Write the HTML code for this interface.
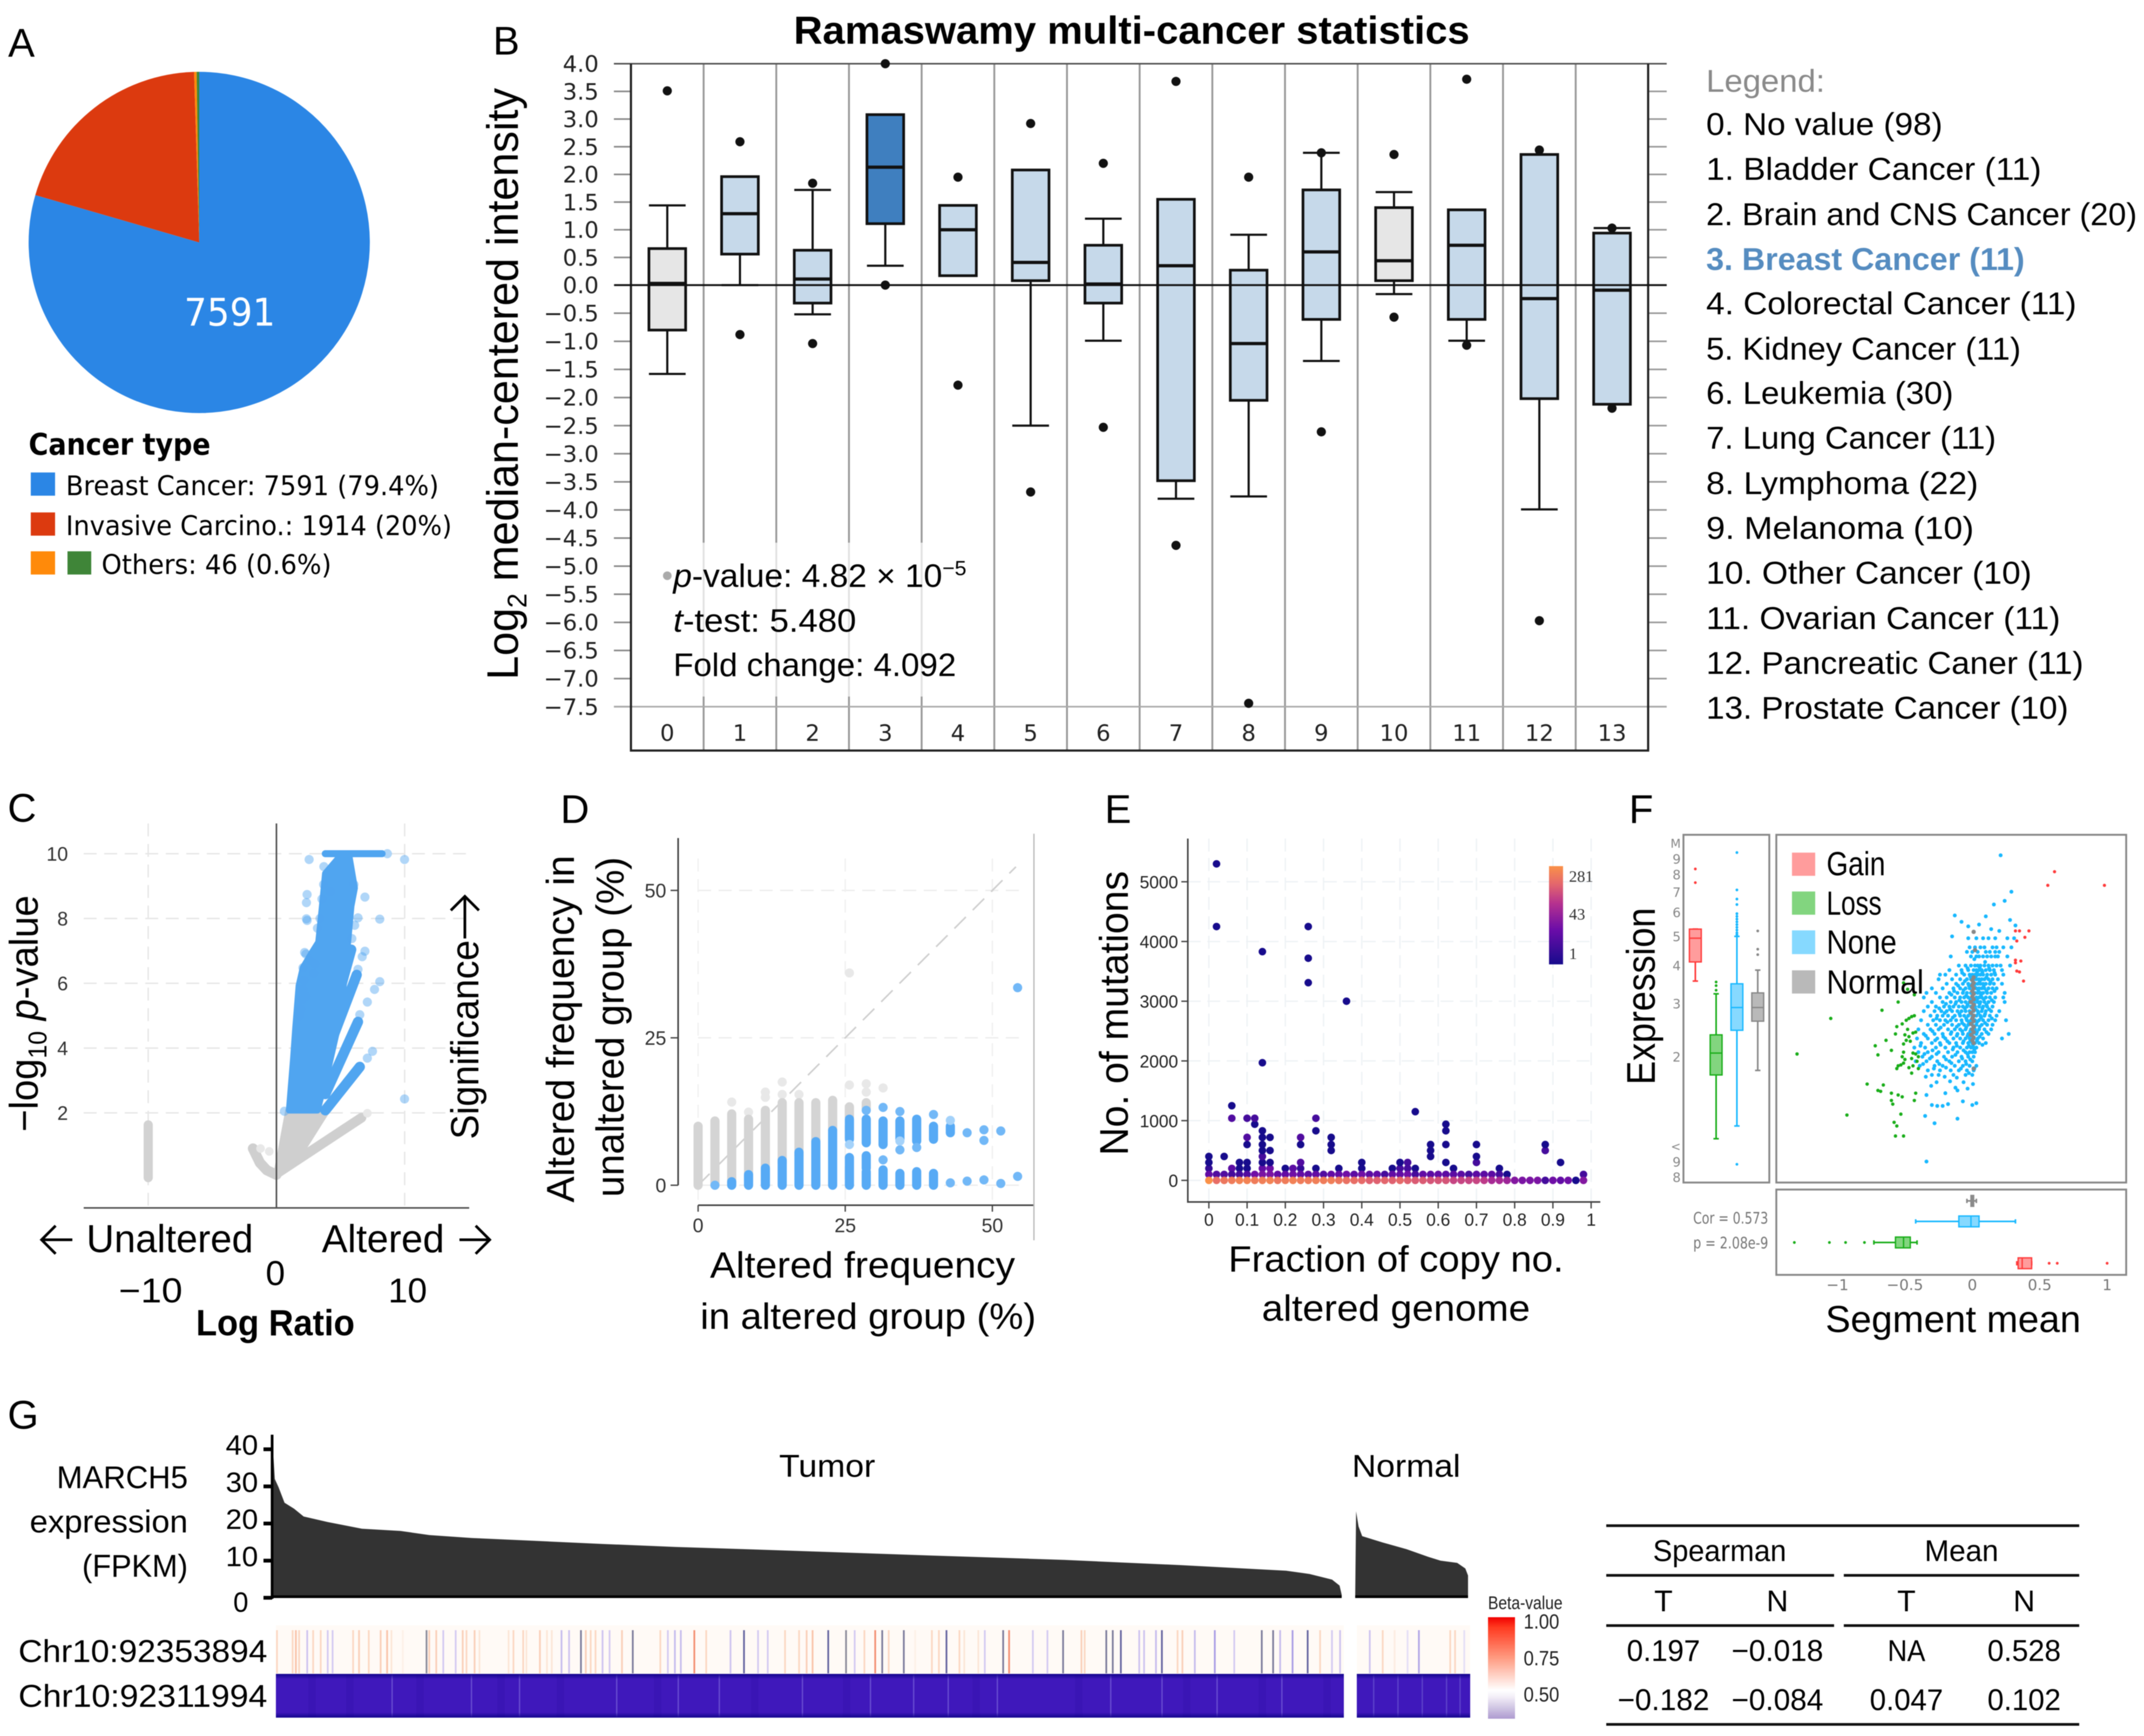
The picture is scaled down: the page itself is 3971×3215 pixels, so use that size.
<!DOCTYPE html>
<html lang="en">
<head>
<meta charset="utf-8">
<title>MARCH5 multi-panel cancer statistics figure</title>
<style>
html,body{margin:0;padding:0;background:#fff;}
svg{display:block;filter:blur(0.9px);}
text{font-family:"Liberation Sans",sans-serif;fill:#000;}
.dj{font-family:"DejaVu Sans",sans-serif;}
.serif{font-family:"Liberation Serif",serif;}
.panel{font-size:74px;}
.t58{font-size:58px;}
.t68{font-size:68px;}
</style>
</head>
<body>
<svg id="fig" xmlns="http://www.w3.org/2000/svg" width="3971" height="3215" viewBox="0 0 3971 3215">
<rect x="0" y="0" width="3971" height="3215" fill="#fff"/>

<!-- PANEL A -->
<g id="panelA">
  <text class="panel" x="15" y="105">A</text>
  <g id="pieSlices"></g>
  <text id="pieLabel" class="dj" x="341" y="603" font-size="70" textLength="169" lengthAdjust="spacingAndGlyphs" style="fill:#fff">7591</text>
  <text class="dj" x="53" y="842" font-size="55" font-weight="700" textLength="337" lengthAdjust="spacingAndGlyphs">Cancer type</text>
  <rect x="57" y="875" width="45" height="43" fill="#2b86e5"/>
  <text class="dj" x="122" y="917" font-size="50" textLength="691" lengthAdjust="spacingAndGlyphs">Breast Cancer: 7591 (79.4%)</text>
  <rect x="57" y="949" width="45" height="43" fill="#dc3a0f"/>
  <text class="dj" x="122" y="991" font-size="50" textLength="715" lengthAdjust="spacingAndGlyphs">Invasive Carcino.: 1914 (20%)</text>
  <rect x="57" y="1021" width="45" height="43" fill="#ff8a0a"/>
  <rect x="125" y="1021" width="44" height="43" fill="#3f8538"/>
  <text class="dj" x="188" y="1063" font-size="50" textLength="426" lengthAdjust="spacingAndGlyphs">Others: 46 (0.6%)</text>
</g>

<!-- PANEL B -->
<g id="panelB">
  <text class="panel" x="913" y="101">B</text>
  <text x="1470" y="81" font-size="72" font-weight="700" textLength="1252" lengthAdjust="spacingAndGlyphs">Ramaswamy multi-cancer statistics</text>
  <text transform="translate(959,1259) rotate(-90)" font-size="82" textLength="1096" lengthAdjust="spacingAndGlyphs">Log<tspan font-size="50" dy="16">2</tspan><tspan dy="-16"> median-centered intensity</tspan></text>
  <g id="bPlot"></g>
  <text x="1247" y="1087" font-size="60" textLength="543" lengthAdjust="spacingAndGlyphs"><tspan font-style="italic">p</tspan>-value: 4.82 × 10<tspan font-size="38" dy="-22">−5</tspan></text>
  <text x="1247" y="1170" font-size="60" textLength="339" lengthAdjust="spacingAndGlyphs"><tspan font-style="italic">t</tspan>-test: 5.480</text>
  <text x="1247" y="1252" font-size="60" textLength="524" lengthAdjust="spacingAndGlyphs">Fold change: 4.092</text>
  <g>
    <text class="t58" x="3160" y="170" textLength="220" lengthAdjust="spacingAndGlyphs" style="fill:#8a8a8a">Legend:</text>
    <text class="t58" x="3160" y="250" textLength="438" lengthAdjust="spacingAndGlyphs">0. No value (98)</text>
    <text class="t58" x="3160" y="333" textLength="621" lengthAdjust="spacingAndGlyphs">1. Bladder Cancer (11)</text>
    <text class="t58" x="3160" y="417" textLength="798" lengthAdjust="spacingAndGlyphs">2. Brain and CNS Cancer (20)</text>
    <text class="t58" x="3160" y="500" textLength="590" lengthAdjust="spacingAndGlyphs" font-weight="700" style="fill:#558cc0">3. Breast Cancer (11)</text>
    <text class="t58" x="3160" y="582" textLength="686" lengthAdjust="spacingAndGlyphs">4. Colorectal Cancer (11)</text>
    <text class="t58" x="3160" y="666" textLength="583" lengthAdjust="spacingAndGlyphs">5. Kidney Cancer (11)</text>
    <text class="t58" x="3160" y="748" textLength="458" lengthAdjust="spacingAndGlyphs">6. Leukemia (30)</text>
    <text class="t58" x="3160" y="831" textLength="537" lengthAdjust="spacingAndGlyphs">7. Lung Cancer (11)</text>
    <text class="t58" x="3160" y="915" textLength="504" lengthAdjust="spacingAndGlyphs">8. Lymphoma (22)</text>
    <text class="t58" x="3160" y="998" textLength="496" lengthAdjust="spacingAndGlyphs">9. Melanoma (10)</text>
    <text class="t58" x="3160" y="1081" textLength="603" lengthAdjust="spacingAndGlyphs">10. Other Cancer (10)</text>
    <text class="t58" x="3160" y="1165" textLength="656" lengthAdjust="spacingAndGlyphs">11. Ovarian Cancer (11)</text>
    <text class="t58" x="3160" y="1248" textLength="699" lengthAdjust="spacingAndGlyphs">12. Pancreatic Caner (11)</text>
    <text class="t58" x="3160" y="1331" textLength="671" lengthAdjust="spacingAndGlyphs">13. Prostate Cancer (10)</text>
  </g>
</g>

<!-- PANEL C -->
<g id="panelC">
  <text class="panel" x="14" y="1522">C</text>
  <g id="cPlot"></g>
  <text transform="translate(70,2096) rotate(-90)" font-size="74" textLength="438" lengthAdjust="spacingAndGlyphs">−log<tspan font-size="48" dy="16">10</tspan><tspan dy="-16"> </tspan><tspan font-style="italic">p</tspan>-value</text>
  <text transform="translate(886,2110) rotate(-90)" font-size="72" textLength="369" lengthAdjust="spacingAndGlyphs">Significance</text>
  <path d="M861 1738V1660M835 1686L861 1660L887 1686" fill="none" stroke="#000" stroke-width="5"/>
  <text x="160" y="2319" font-size="72" textLength="309" lengthAdjust="spacingAndGlyphs">Unaltered</text>
  <path d="M134 2296H77M103 2270L77 2296L103 2322" fill="none" stroke="#000" stroke-width="5"/>
  <text x="596" y="2319" font-size="72" textLength="227" lengthAdjust="spacingAndGlyphs">Altered</text>
  <path d="M851 2296H907M881 2270L907 2296L881 2322" fill="none" stroke="#000" stroke-width="5"/>
  <text x="492" y="2380" font-size="64" textLength="36" lengthAdjust="spacingAndGlyphs">0</text>
  <text x="220" y="2412" font-size="64" textLength="118" lengthAdjust="spacingAndGlyphs">−10</text>
  <text x="719" y="2412" font-size="64" textLength="72" lengthAdjust="spacingAndGlyphs">10</text>
  <text x="363" y="2473" font-size="68" font-weight="700" textLength="294" lengthAdjust="spacingAndGlyphs">Log Ratio</text>
</g>

<!-- PANEL D -->
<g id="panelD">
  <text class="panel" x="1038" y="1524">D</text>
  <g id="dPlot"></g>
  <text transform="translate(1063,2227) rotate(-90)" font-size="72" textLength="643" lengthAdjust="spacingAndGlyphs">Altered frequency in</text>
  <text transform="translate(1155,2217) rotate(-90)" font-size="72" textLength="630" lengthAdjust="spacingAndGlyphs">unaltered group (%)</text>
  <text x="1315" y="2366" class="t68" textLength="565" lengthAdjust="spacingAndGlyphs">Altered frequency</text>
  <text x="1297" y="2461" class="t68" textLength="622" lengthAdjust="spacingAndGlyphs">in altered group (%)</text>
</g>

<!-- PANEL E -->
<g id="panelE">
  <text class="panel" x="2046" y="1524">E</text>
  <g id="ePlot"></g>
  <text transform="translate(2089,2140) rotate(-90)" font-size="74" textLength="527" lengthAdjust="spacingAndGlyphs">No. of mutations</text>
  <text x="2275" y="2355" class="t68" textLength="621" lengthAdjust="spacingAndGlyphs">Fraction of copy no.</text>
  <text x="2337" y="2446" class="t68" textLength="497" lengthAdjust="spacingAndGlyphs">altered genome</text>
  <defs><linearGradient id="eBar" x1="0" y1="1" x2="0" y2="0"><stop offset="0" stop-color="#170b8c"/><stop offset=".35" stop-color="#6a0ca8"/><stop offset=".62" stop-color="#b5318f"/><stop offset=".82" stop-color="#e4676c"/><stop offset="1" stop-color="#fa9148"/></linearGradient></defs>
  <rect x="2869" y="1604" width="26" height="182" fill="url(#eBar)"/>
  <text class="serif" x="2906" y="1633" font-size="30" style="fill:#333">281</text>
  <text class="serif" x="2906" y="1703" font-size="30" style="fill:#333">43</text>
  <text class="serif" x="2906" y="1776" font-size="30" style="fill:#333">1</text>
</g>

<!-- PANEL F -->
<g id="panelF">
  <text class="panel" x="3017" y="1524">F</text>
  <rect x="3118" y="1546" width="159" height="644" fill="none" stroke="#888" stroke-width="3.5"/>
  <rect x="3290" y="1546" width="648" height="644" fill="none" stroke="#888" stroke-width="3.5"/>
  <rect x="3290" y="2203" width="648" height="158" fill="none" stroke="#888" stroke-width="3.5"/>
  <g id="fPlot"></g>
  <rect x="3319" y="1579" width="43" height="43" fill="#ff9c9c"/>
  <text x="3383" y="1621" font-size="62" textLength="109" lengthAdjust="spacingAndGlyphs">Gain</text>
  <rect x="3319" y="1651" width="43" height="43" fill="#82d57f"/>
  <text x="3383" y="1694" font-size="62" textLength="102" lengthAdjust="spacingAndGlyphs">Loss</text>
  <rect x="3319" y="1723" width="43" height="44" fill="#86d9ff"/>
  <text x="3383" y="1766" font-size="62" textLength="130" lengthAdjust="spacingAndGlyphs">None</text>
  <rect x="3319" y="1797" width="43" height="43" fill="#b9b9b9"/>
  <text x="3383" y="1840" font-size="62" textLength="180" lengthAdjust="spacingAndGlyphs">Normal</text>
  <text class="dj" x="3136" y="2266" font-size="29" textLength="139" lengthAdjust="spacingAndGlyphs" style="fill:#777">Cor = 0.573</text>
  <text class="dj" x="3136" y="2312" font-size="29" textLength="139" lengthAdjust="spacingAndGlyphs" style="fill:#777">p = 2.08e-9</text>
  <text transform="translate(3065,2009) rotate(-90)" font-size="74" textLength="328" lengthAdjust="spacingAndGlyphs">Expression</text>
  <text x="3381" y="2467" font-size="70" textLength="473" lengthAdjust="spacingAndGlyphs">Segment mean</text>
</g>

<!-- PANEL G -->
<g id="panelG">
  <text class="panel" x="14" y="2646">G</text>
  <text x="105" y="2756" font-size="58" textLength="243" lengthAdjust="spacingAndGlyphs">MARCH5</text>
  <text x="55" y="2838" font-size="58" textLength="293" lengthAdjust="spacingAndGlyphs">expression</text>
  <text x="152" y="2920" font-size="58" textLength="196" lengthAdjust="spacingAndGlyphs">(FPKM)</text>
  <text x="1443" y="2735" font-size="58" textLength="178" lengthAdjust="spacingAndGlyphs">Tumor</text>
  <text x="2504" y="2735" font-size="58" textLength="201" lengthAdjust="spacingAndGlyphs">Normal</text>
  <text x="34" y="3078" font-size="58" textLength="461" lengthAdjust="spacingAndGlyphs">Chr10:92353894</text>
  <text x="34" y="3161" font-size="58" textLength="461" lengthAdjust="spacingAndGlyphs">Chr10:92311994</text>
  <g id="gPlot"></g>
  <defs>
    <linearGradient id="betaBar" x1="0" y1="0" x2="0" y2="1"><stop offset="0" stop-color="#f00000"/><stop offset=".1" stop-color="#ff3a20"/><stop offset=".4" stop-color="#ff9a80"/><stop offset=".72" stop-color="#fff"/><stop offset=".78" stop-color="#f4f0f8"/><stop offset="1" stop-color="#ad9bcf"/></linearGradient>
    <linearGradient id="edgeShade" x1="0" y1="0" x2="0" y2="1"><stop offset="0" stop-color="#12048c"/><stop offset=".12" stop-color="#12048c" stop-opacity="0"/><stop offset=".88" stop-color="#12048c" stop-opacity="0"/><stop offset="1" stop-color="#12048c"/></linearGradient>
  </defs>
  <text x="2756" y="2980" font-size="34" textLength="138" lengthAdjust="spacingAndGlyphs" style="fill:#222">Beta-value</text>
  <rect x="2756" y="2995" width="50" height="188" fill="url(#betaBar)"/>
  <text x="2822" y="3016" font-size="38" textLength="66" lengthAdjust="spacingAndGlyphs" style="fill:#222">1.00</text>
  <text x="2822" y="3084" font-size="38" textLength="66" lengthAdjust="spacingAndGlyphs" style="fill:#222">0.75</text>
  <text x="2822" y="3151" font-size="38" textLength="66" lengthAdjust="spacingAndGlyphs" style="fill:#222">0.50</text>
  <g text-anchor="middle" font-size="56">
    <rect x="2975" y="2823" width="876" height="5" fill="#111"/>
    <rect x="2975" y="2915" width="422" height="5" fill="#111"/>
    <rect x="3415" y="2915" width="436" height="5" fill="#111"/>
    <rect x="2975" y="3008" width="422" height="5" fill="#111"/>
    <rect x="3415" y="3008" width="436" height="5" fill="#111"/>
    <rect x="2975" y="3191" width="876" height="5" fill="#111"/>
    <text x="3185" y="2891" textLength="247" lengthAdjust="spacingAndGlyphs">Spearman</text>
    <text x="3633" y="2891" textLength="137" lengthAdjust="spacingAndGlyphs">Mean</text>
    <text x="3081" y="2984">T</text>
    <text x="3292" y="2984">N</text>
    <text x="3531" y="2984">T</text>
    <text x="3749" y="2984">N</text>
    <text x="3081" y="3076" textLength="136" lengthAdjust="spacingAndGlyphs">0.197</text>
    <text x="3292" y="3076" textLength="170" lengthAdjust="spacingAndGlyphs">−0.018</text>
    <text x="3531" y="3076" textLength="70" lengthAdjust="spacingAndGlyphs">NA</text>
    <text x="3749" y="3076" textLength="136" lengthAdjust="spacingAndGlyphs">0.528</text>
    <text x="3081" y="3167" textLength="170" lengthAdjust="spacingAndGlyphs">−0.182</text>
    <text x="3292" y="3167" textLength="170" lengthAdjust="spacingAndGlyphs">−0.084</text>
    <text x="3531" y="3167" textLength="136" lengthAdjust="spacingAndGlyphs">0.047</text>
    <text x="3749" y="3167" textLength="136" lengthAdjust="spacingAndGlyphs">0.102</text>
  </g>
</g>
</svg>

<script>
/* ---------- Panel A data ---------- */
const pieValues = [7591, 1914, 23, 23];
const pieNames = ['breast-cancer', 'invasive-carcinoma', 'others-orange', 'others-green'];

/* ---------- Panel B data ---------- */
const bCategories = [0,1,2,3,4,5,6,7,8,9,10,11,12,13];
const bQ1 =        [-0.80,0.56,-0.32,1.11,0.17,0.08,-0.32,-3.48,-2.05,-0.61,0.08,-0.61,-2.02,-2.12];
const bMedian =    [0.03,1.29,0.11,2.13,1.00,0.41,0.02,0.35,-1.04,0.60,0.44,0.72,-0.24,-0.09];
const bQ3 =        [0.66,1.96,0.63,3.08,1.44,2.08,0.72,1.55,0.27,1.72,1.40,1.36,2.36,0.94];
const bWhiskerLow =[-1.58,0.00,-0.52,0.35,0.17,-2.50,-0.99,-3.80,-3.76,-1.35,-0.16,-0.99,-3.99,-2.12];
const bWhiskerHigh=[1.44,1.96,1.72,3.08,1.44,2.08,1.20,1.55,0.91,2.39,1.68,1.36,2.36,1.03];
const bOutlierHigh=[3.51,2.59,1.84,4.00,1.95,2.92,2.20,3.68,1.95,2.39,2.36,3.72,2.44,1.03];
const bOutlierLow =[null,-0.88,-1.04,0.00,-1.78,-3.68,-2.53,-4.63,-7.44,-2.61,-0.57,-1.07,-5.97,-2.19];
const bFaintOutlier = [-5.17];
const bHighlighted = [3];
const bNoValueGroups = [0,10];
const bTickValues = [4,3.5,3,2.5,2,1.5,1,0.5,0,-0.5,-1,-1.5,-2,-2.5,-3,-3.5,-4,-4.5,-5,-5.5,-6,-6.5,-7,-7.5];

/* ---------- Panel C data ---------- */
const cXTicks = [-10,0,10];
const cYTicks = [10,8,6,4,2];
const cFanLogRatio = [0.99,1.32,1.48,1.75,2.07,2.74,3.28,3.54,3.81,4.89,5.69,6.1,5.83,5.6,5.0,4.1,3.2];
const cFanP =        [2.08,3.69,4.59,5.93,6.48,6.93,7.27,8.27,9.39,9.89,9.89,8.94,8.38,7.38,5.03,3.47,2.08];
const cStreakLogRatioStart = [3.81,3.81,4.22,4.35,3.81];
const cStreakPStart =        [2.08,2.58,4.14,4.92,10];
const cStreakLogRatioEnd =   [6.5,6.36,6.26,5.83,8.24];
const cStreakPEnd =          [3.42,4.81,6.26,7.04,10];
const cLightLogRatio = [2.55,9.99,8.65,2.39,2.34,2.34,2.39,6.9,6.36,8.06,6.1,6.9,6.69,6.36,8.06,7.65,7.09,6.5,7.49,7.09,9.99,0.62,2.2,2.07,2.15,2.07,6.04,3.68,4.22,5.88,2.3,2.6,3.0,2.9,2.0,1.9,2.3,1.8,3.2,3.4,3.55,3.7];
const cLightP =        [9.82,9.82,10,8.74,8.49,7.99,7.94,8.66,8.02,7.98,7.79,6.99,6.82,6.43,6.05,5.81,5.42,5.03,3.9,3.69,2.43,2.05,6.95,6.48,6.09,5.81,9.05,9.05,8.83,7.38,6.9,6.7,6.6,6.3,5.5,5.2,5.6,5.0,7.7,8.0,8.6,9.6];
const cGrayFanLogRatio = [0.94,3.95,2.07,0];
const cGrayFanP =        [2.08,2.08,0.9,0.07];
const cGrayStreakLogRatio = [0,6.63];
const cGrayStreakP =        [0.12,1.85];
const cGrayCurveLogRatio = [-1.83,-1.29,-0.75,0];
const cGrayCurveP =        [0.9,0.46,0.23,0.09];
const cGrayColumnLogRatio = -10;
const cGrayColumnP = [0.0,1.63];
const cFaintLogRatio = [7.09,-1.24,-0.56];
const cFaintP =        [1.99,0.9,0.81];

/* ---------- Panel D data ---------- */
const dXTicks = [0,25,50];
const dYTicks = [0,25,50];
const dGrayColumnFreq = [0,2.86,5.71,8.57,11.43,14.29,17.14,20,22.86,25.71,28.57];
const dGrayColumnHigh = [10,10.9,12.1,11.2,12.7,14,14,14,14.4,13.3,14];
const dGrayColumnLow =  [0,0,0.4,0.7,1,3.8,5,7,9.4,11.5,13];
const dPaleFreq =    [5.71,8.57,11.43,11.43,14.29,14.29,17.14,25.71,25.71,28.57,28.57,31.43];
const dPaleValue =   [14.1,12.4,15.8,14.9,15.4,17.5,15.4,17,36,17.2,15.8,16.5];
const dBlueSpanFreq = [5.71,8.57,11.43,14.29,17.14,20,22.86,25.71,25.71,28.57,28.57,28.57,31.43,31.43,34.29,34.29,37.14,37.14,40,40,42.86];
const dBlueSpanLow =  [0,0,0,0,0,0,0,0,7.8,0,2.9,7.2,0,6.9,0,7.8,0,7.5,0,7.8,8.9];
const dBlueSpanHigh = [0.6,1.8,2.9,4.2,5.6,7.4,9.3,4.7,11.2,2.3,5,11.2,2.6,10.9,2,10.9,2.3,11.2,2,10,10];
const dBluePointFreq =  [28.57,31.43,42.86,45.71,45.71,48.57,48.57,48.57,51.43,51.43,54.29,54.29,2.86,34.29,34.29,37.14,40,31.43];
const dBluePointValue = [12.7,4.3,0.4,8.9,0.7,9.4,7.6,0.9,9.2,0.3,33.5,1.5,0,12.5,6,6.4,12,13.2];
const dBluePaleFreq =  [42.86,25.71,34.29];
const dBluePaleValue = [11,6.9,7.5];

/* ---------- Panel E data ---------- */
const eXTicks = [0,0.1,0.2,0.3,0.4,0.5,0.6,0.7,0.8,0.9,1];
const eYTicks = [0,1000,2000,3000,4000,5000];
const eZeroRowDensity = [281,120,150,170,200,200,170,180,200,150,170,190,170,170,180,170,180,150,130,120,110,90,90,100,90,110,90,80,80,70,70,70,50,50,50,50,40,25,25,20,12,10,10,10,3,8,6,8,1,12];
const eHundredRowDensity = [6,4,4,3,3,4,8,10,10,6,6,8,6,5,6,4,6,6,8,5,8,5,6,3,6,6,8,3,6,5,6,5,5,5,3,5,5,5,3,1,0,0,0,0,0,0,0,0,0,3];
const eFraction = [0,0,0,0.02,0.02,0.04,0.06,0.06,0.06,0.08,0.08,0.1,0.1,0.1,0.1,0.1,0.12,0.12,0.14,0.14,0.14,0.14,0.14,0.14,0.14,0.14,0.14,0.16,0.16,0.16,0.16,0.2,0.22,0.24,0.24,0.24,0.24,0.26,0.26,0.26,0.28,0.28,0.28,0.32,0.32,0.32,0.34,0.36,0.4,0.4,0.48,0.5,0.5,0.52,0.52,0.54,0.54,0.58,0.58,0.58,0.62,0.62,0.62,0.62,0.64,0.7,0.7,0.7,0.76,0.88,0.88,0.92];
const eMutations = [200,300,400,5300,4250,400,200,1250,1040,200,300,200,300,600,720,1040,940,1040,200,300,400,500,600,720,830,1970,3830,200,300,500,720,200,200,200,300,600,720,3310,3720,4250,200,830,1040,500,600,720,200,3000,200,300,200,200,300,200,300,200,1150,400,500,600,300,600,830,940,200,300,400,600,200,500,600,300];
const eDensity = [2,1,1,1,1,1,5,1,4,1,1,1,1,1,4,3,1,3,6,1,3,1,1,1,1,1,1,8,1,1,1,1,5,2,4,1,4,1,1,1,1,1,3,1,1,1,1,1,1,1,1,3,1,3,3,1,1,1,1,1,1,1,1,1,1,3,1,1,1,3,1,1];

/* ---------- Panel F data (segment mean, log2 expression) ---------- */
const fXTicks = [-1,-0.5,0,0.5,1];
const fYTickValues = [9,8,7,6,5,4,3,2,0.9,0.8];
const fYTickLabels = ['9','8','7','6','5','4','3','2','9','8'];
const fNoneRowLog2 = [2.3,2.2,2.15,2.1,2.0,1.95,1.9,1.85,1.8,1.75,1.7,1.65,1.6,1.55,1.5,1.45,1.4,1.35,1.3,1.25,1.2,1.15,1.1,1.05,1.0,0.95,0.9,0.85,0.8];
const fNoneRowSeg = [
[-0.03,0.03,0.08,0.12,0.17,0.26,0.31],
[-0.02,0.02,0.06,0.09,0.15,0.18,0.23,0.29],
[-0.04,0,0.04,0.1,0.13,0.17,0.2],
[-0.16,-0.01,0.03,0.05,0.08,0.11,0.14,0.17,0.19,0.26],
[-0.1,-0.05,-0.01,0.02,0.04,0.06,0.09,0.12,0.15,0.18,0.21,0.28],
[-0.17,-0.08,-0.03,0.01,0.03,0.05,0.07,0.1,0.13,0.16,0.22],
[-0.24,-0.2,-0.12,-0.06,-0.02,0,0.02,0.04,0.06,0.08,0.11,0.14,0.17,0.23],
[-0.25,-0.15,-0.09,-0.04,-0.01,0.01,0.03,0.05,0.07,0.09,0.12,0.15,0.19],
[-0.19,-0.12,-0.07,-0.03,0,0.02,0.04,0.06,0.08,0.1,0.13,0.16,0.22],
[-0.3,-0.22,-0.14,-0.09,-0.05,-0.02,0.01,0.03,0.05,0.07,0.09,0.12,0.15,0.18],
[-0.34,-0.27,-0.17,-0.11,-0.07,-0.04,-0.01,0.02,0.04,0.06,0.08,0.11,0.14,0.24],
[-0.36,-0.24,-0.19,-0.13,-0.09,-0.06,-0.03,0,0.03,0.05,0.07,0.1,0.13,0.17,0.23],
[-0.3,-0.22,-0.16,-0.12,-0.08,-0.05,-0.02,0.01,0.04,0.06,0.09,0.12,0.16,0.24],
[-0.33,-0.27,-0.21,-0.17,-0.14,-0.1,-0.07,-0.04,-0.01,0.02,0.05,0.08,0.11,0.15],
[-0.36,-0.28,-0.23,-0.19,-0.15,-0.11,-0.08,-0.05,-0.02,0.01,0.04,0.07,0.1,0.14,0.2],
[-0.31,-0.26,-0.22,-0.18,-0.13,-0.09,-0.06,-0.03,0,0.03,0.06,0.09,0.13,0.18],
[-0.38,-0.29,-0.24,-0.2,-0.16,-0.12,-0.08,-0.04,-0.01,0.02,0.05,0.08,0.12,0.17,0.25],
[-0.33,-0.27,-0.21,-0.15,-0.1,-0.06,-0.03,0,0.03,0.07,0.11,0.15],
[-0.4,-0.31,-0.25,-0.18,-0.13,-0.09,-0.05,-0.01,0.02,0.05,0.09,0.14],
[-0.36,-0.28,-0.22,-0.16,-0.11,-0.07,-0.03,0,0.03,0.07,0.12,0.27],
[-0.41,-0.33,-0.26,-0.2,-0.14,-0.09,-0.05,-0.02,0.01,0.04,0.08,0.22],
[-0.38,-0.3,-0.24,-0.17,-0.12,-0.07,-0.03,0,0.02,0.05,0.1],
[-0.43,-0.35,-0.27,-0.2,-0.14,-0.09,-0.04,-0.01,0.01,0.03],
[-0.4,-0.33,-0.25,-0.18,-0.11,-0.05,-0.02,0,0.02],
[-0.37,-0.3,-0.21,-0.15,-0.08,-0.03,0.01],
[-0.42,-0.34,-0.26,-0.17,-0.1,-0.05,0],
[-0.39,-0.28,-0.22,-0.13,-0.07,-0.02,0.03],
[-0.33,-0.24,-0.16,-0.1,-0.04,0.01],
[-0.3,-0.25,-0.14,-0.05,0]
];
const fNoneExtras = [[0.21,3.21],[0.29,2.81],[0.24,2.71],[0.16,2.67],[-0.13,2.55],[-0.08,2.48],[0.05,2.45],[0.1,2.54],[-0.03,2.43],[0.28,2.5],[0.32,2.44],[0.14,2.4],[0.2,2.38],[-0.15,2.32],[0.01,2.37],[-0.34,0.58],[-0.3,0.47],[-0.26,0.46],[-0.22,0.46],[-0.18,0.48],[-0.2,0.6],[-0.07,0.51],[0,0.47],[0.03,0.49],[-0.35,0.35],[-0.28,0.27],[-0.11,0.32],[-0.34,-0.15],[-0.11,0.63]];
const fNoneOffRow = [[0.015,2.07],[0.055,1.98],[0.095,2.04],[-0.035,1.97],[0.125,1.97],[0.035,1.92],[0.075,1.93],[0.165,1.92],[-0.075,1.92],[-0.015,1.88],[0.025,1.87],[0.105,1.87],[0.055,1.83],[-0.055,1.83],[0.135,1.82],[0.085,1.78],[0.015,1.77],[-0.025,1.78],[-0.105,1.78],[0.045,1.73],[-0.065,1.73],[0.105,1.72],[-0.135,1.72],[0.165,1.72],[0.005,1.68],[0.065,1.68],[-0.045,1.67],[-0.155,1.68],[-0.015,1.63],[0.035,1.62],[0.085,1.63],[-0.095,1.62],[0.145,1.62],[0.015,1.58],[-0.035,1.57],[0.055,1.58],[-0.125,1.58],[-0.195,1.58],[0.105,1.57],[-0.055,1.53],[0.025,1.52],[0.075,1.53],[-0.165,1.52],[-0.245,1.53],[0.125,1.52],[-0.015,1.48],[0.045,1.48],[-0.095,1.47],[-0.205,1.48],[0.095,1.47],[0.005,1.43],[-0.045,1.42],[0.065,1.43],[-0.145,1.43],[-0.265,1.42],[0.145,1.42],[-0.025,1.38],[0.035,1.38],[-0.075,1.37],[-0.185,1.38],[0.095,1.37],[0.015,1.33],[-0.045,1.32],[0.055,1.33],[-0.115,1.33],[-0.235,1.32],[-0.015,1.28],[0.035,1.27],[-0.075,1.28],[-0.155,1.27],[-0.295,1.28],[0.105,1.27],[0.005,1.22],[-0.035,1.23],[0.055,1.22],[-0.115,1.23],[-0.215,1.22],[-0.345,1.23],[-0.015,1.17],[0.035,1.18],[-0.065,1.17],[-0.185,1.17],[-0.275,1.18],[0.075,1.13],[0.005,1.13],[-0.025,1.12],[-0.115,1.12],[-0.235,1.13],[-0.385,1.12],[-0.065,1.07],[-0.145,1.08],[-0.295,1.07],[0.015,1.08],[-0.035,1.03],[-0.125,1.02],[-0.265,1.03],[-0.355,1.03],[-0.015,0.97],[-0.075,0.98],[-0.195,0.97],[-0.315,0.98],[-0.045,0.92],[-0.155,0.93],[-0.245,0.92],[-0.365,0.92],[0.015,0.87],[-0.085,0.87],[-0.195,0.88],[-0.285,0.87],[-0.025,0.82],[-0.115,0.77],[-0.205,0.78],[-0.345,0.78],[-0.065,0.72],[-0.165,0.73],[-0.265,0.72],[0.005,0.7],[-0.125,0.66],[-0.305,0.68],[-0.035,0.65]];
const fLossPoints = [[-0.51,1.81],[-0.55,1.6],[-0.43,1.68],[-0.48,1.74],[-0.67,1.51],[-1.05,1.42],[-1.3,1.03],[-0.52,1.36],[-0.49,1.4],[-0.47,1.42],[-0.45,1.44],[-0.43,1.45],[-0.56,1.33],[-0.48,1.3],[-0.5,1.24],[-0.47,1.22],[-0.44,1.26],[-0.42,1.27],[-0.57,1.25],[-0.49,1.18],[-0.46,1.17],[-0.51,1.14],[-0.72,1.12],[-0.64,1.18],[-0.6,1.07],[-0.7,1.02],[-0.51,1.05],[-0.52,1],[-0.5,0.97],[-0.44,1.04],[-0.42,1.03],[-0.4,1],[-0.45,0.98],[-0.41,0.95],[-0.55,0.9],[-0.53,0.91],[-0.56,0.87],[-0.51,0.93],[-0.47,0.88],[-0.44,0.9],[-0.45,0.82],[-0.4,0.87],[-0.78,0.7],[-0.66,0.69],[-0.7,0.63],[-0.68,0.62],[-0.6,0.6],[-0.55,0.58],[-0.52,0.56],[-0.42,0.6],[-0.43,0.52],[-0.6,0.52],[-0.59,0.48],[-0.53,0.37],[-0.93,0.36],[-0.58,0.28],[-0.56,0.24],[-0.57,0.13],[-0.51,0.13]];
const fGainPoints = [[0.61,3.03],[0.56,2.88],[0.98,2.88],[0.32,2.38],[0.35,2.38],[0.42,2.38],[0.39,2.31],[0.33,2.27],[0.32,2.06],[0.32,2.03],[0.36,2.05],[0.33,1.94],[0.35,1.93],[0.38,1.83]];
const fNormalPoints = [[0.01,2.37],[0.02,2.17],[0.01,0.87],[0.01,1.15],[0,1.18],[0.01,1.21],[-0.01,1.24],[0.01,1.27],[0,1.3],[0.01,1.33],[-0.01,1.36],[0.01,1.39],[0,1.42],[0.01,1.45],[-0.01,1.48],[0.01,1.51],[0,1.54],[0.01,1.57],[-0.01,1.6],[0.01,1.63],[0,1.66],[0.01,1.69],[0,1.72],[0.01,1.75],[0,1.78],[0.01,1.81],[0,1.84],[0.01,1.87]];
const fGroups = ['gain','loss','none','normal'];
const fVQ1 =  [2.04,0.8,1.29,1.39];
const fVMed = [2.3,1.04,1.54,1.54];
const fVQ3 =  [2.4,1.24,1.8,1.7];
const fVLow = [1.83,0.1,0.24,0.85];
const fVHigh =[2.4,1.69,2.32,1.95];
const fVOutliers = [[3.06,2.91],[1.82,1.78,1.73],[3.24,2.83,2.73,2.67,2.57,2.54,2.51,2.48,2.45,2.42,2.39,2.36,2.34,-0.18],[2.38,2.18,2.12]];
const fHQ1 =  [0.34,-0.57,-0.1,-0.01];
const fHMed = [0.37,-0.51,-0.01,0];
const fHQ3 =  [0.44,-0.46,0.05,0.01];
const fHLow = [0.33,-0.73,-0.42,-0.04];
const fHHigh =[0.44,-0.41,0.32,0.03];
const fHOutliers = [[0.57,0.63,1],[-1.32,-1.06,-0.94,-0.8],[],[]];

/* ---------- Panel G data ---------- */
const gYTicks = [0,10,20,30,40];
const gTumorRank = [0,0,0.25,0.6,1.16,2.05,2.95,5.2,8.4,12,14.7,18.7,24.1,30.9,37.7,45.2,61.4,74.1,84.9,94.8,97,99.1,99.8,100,100];
const gTumorFpkm = [0,44,32,29.8,25.6,24,21.9,20.4,18.6,18,16.9,16.1,15.4,14.5,13.7,13,11.4,10.2,8.8,7.3,6.4,4.9,3.3,0.8,0];
const gNormalRank = [0,0.8,3,6.2,24.4,45.5,65,75.6,90.4,97.6,100,100];
const gNormalFpkm = [0,23.3,19.2,16.6,14.9,13.1,11,10,9.4,7.9,6,0];
const gCpg1TumorRank = [2,31,37,43,58,69,83,96,105,143,154,172,194,206,214,235,279,284,297,310,333,346,353,368,377,431,440,458,464,489,502,511,529,543,565,574,583,592,605,618,641,661,712,726,739,750,775,797,842,867,893,911,943,969,983,994,1023,1056,1072,1090,1110,1123,1135,1163,1184,1215,1228,1242,1266,1275,1301,1313,1347,1358,1402,1429,1458,1492,1498,1538,1550,1565,1599,1608,1630,1641,1670,1679,1702,1739,1775,1826,1847,1860,1883,1911,1934,1956,1971];
const gCpg1TumorBeta = [0.66,0.66,0.7,0.66,0.4,0.66,0.66,0.42,0.42,0.66,0.68,0.66,0.68,0.7,0.62,0.58,0.1,0.68,0.68,0.42,0.42,0.68,0.66,0.68,0.62,0.62,0.66,0.66,0.62,0.68,0.62,0.62,0.38,0.4,0.08,0.68,0.66,0.66,0.4,0.42,0.68,0.08,0.66,0.42,0.38,0.38,0.78,0.66,0.4,0.05,0.42,0.42,0.66,0.66,0.68,0.7,0.05,0.1,0.42,0.66,0.78,0.08,0.66,0.08,0.58,0.66,0.66,0.05,0.66,0.62,0.62,0.42,0.08,0.78,0.42,0.42,0.08,0.68,0.66,0.08,0.08,0.05,0.4,0.4,0.38,0.05,0.66,0.68,0.38,0.3,0.42,0.08,0.08,0.38,0.3,0.05,0.66,0.42,0.4];
const gCpg1NormalRank = [24,48,70,94,115,173,182,199];
const gCpg1NormalBeta = [0.4,0.66,0.6,0.45,0.32,0.66,0.66,0.45];
const gCpg2TumorLightRank = [214,361,450,630,744,974,1244,1335,1545,1742,1862,1100,1640,820,1180];
const gCpg2NormalLightRank = [30,75,120,165,190];
const gCpg2DarkRank = [60,130,260,410,520,700,880,1050,1290,1480,1680,1820,1940];

/* ---------- Helpers ---------- */
const NS = 'http://www.w3.org/2000/svg';
function add(parent, tag, attrs) {
  const node = document.createElementNS(NS, tag);
  for (const k in attrs) node.setAttribute(k, attrs[k]);
  parent.appendChild(node);
  return node;
}
function addText(parent, str, attrs) {
  const node = add(parent, 'text', attrs);
  node.textContent = str;
  return node;
}
function minus(s) { return String(s).replace('-', '\u2212'); }
function lerpColor(stops, t) {
  if (t <= stops[0][0]) return stops[0][1];
  for (let i = 1; i < stops.length; i++) {
    if (t <= stops[i][0]) {
      const a = stops[i-1], b = stops[i], f = (t - a[0]) / (b[0] - a[0]);
      const pa = [1,3,5].map(k => parseInt(a[1].substr(k,2),16));
      const pb = [1,3,5].map(k => parseInt(b[1].substr(k,2),16));
      return 'rgb(' + pa.map((v,j) => Math.round(v + (pb[j]-v)*f)).join(',') + ')';
    }
  }
  return stops[stops.length-1][1];
}

/* ---------- Panel A ---------- */
(function () {
  const g = document.getElementById('pieSlices');
  const cx = 369, cy = 449, r = 316;
  const colors = ['#2b86e5','#dc3a0f','#ff8a0a','#3f8538'];
  const total = pieValues.reduce((a,b) => a+b, 0);
  let acc = 0;
  pieValues.forEach((v, i) => {
    const a0 = acc / total * 2 * Math.PI; acc += v;
    const a1 = acc / total * 2 * Math.PI;
    const large = a1 - a0 > Math.PI ? 1 : 0;
    const d = 'M' + cx + ' ' + cy + 'L' + (cx + r*Math.sin(a0)) + ' ' + (cy - r*Math.cos(a0)) +
      'A' + r + ' ' + r + ' 0 ' + large + ' 1 ' + (cx + r*Math.sin(a1)) + ' ' + (cy - r*Math.cos(a1)) + 'Z';
    const el = add(g, 'path', {d: d, fill: colors[i]});
    
    
  });
})();

/* ---------- Panel B ---------- */
(function () {
  const g = document.getElementById('bPlot');
  const left = 1168.6, catW = 134.6, top = 118, bottom = 1390, right = 3052.6;
  const bX = i => left + catW * (i + 0.5);
  const bY = v => v >= 0 ? 528 - 102.5 * v : 528 - 104.1 * v;
  let el;
  bTickValues.forEach(v => {
    const y = bY(v);
    el = add(g, 'line', {x1: 1137, x2: left, y1: y, y2: y, stroke: '#888', 'stroke-width': 3});
    
    
    el = add(g, 'line', {x1: right, x2: 3087, y1: y, y2: y, stroke: '#999', 'stroke-width': 3});
    
    
    el = addText(g, minus(v.toFixed(1)), {x: 1109, y: y + 15, 'text-anchor': 'end', 'font-size': 42, class: 'dj', style: 'fill:#222'});
    
    
  });
  bCategories.forEach((c, i) => {
    if (i > 0) {
      el = add(g, 'line', {x1: left + catW*i, x2: left + catW*i, y1: top, y2: bottom, stroke: '#999', 'stroke-width': 3.5});
      
      
    }
    el = addText(g, String(c), {x: bX(i), y: 1372, 'text-anchor': 'middle', 'font-size': 42, class: 'dj', style: 'fill:#222'});
    
    
  });
  el = add(g, 'rect', {x: 1180, y: 1005, width: 570, height: 285, fill: '#fff', 'fill-opacity': 0.7});
  
  
  el = add(g, 'line', {x1: 1137, x2: 3087, y1: bY(-7.5), y2: bY(-7.5), stroke: '#aaa', 'stroke-width': 3});
  
  
  el = add(g, 'line', {x1: 1137, x2: 3087, y1: top, y2: top, stroke: '#555', 'stroke-width': 3});
  
  
  el = add(g, 'path', {d: 'M' + left + ' ' + top + 'V' + bottom + 'H' + right + 'V' + top, fill: 'none', stroke: '#222', 'stroke-width': 4});
  
  

  const hw = 34;
  bCategories.forEach((c, i) => {
    const x = bX(i);
    const fill = bHighlighted.includes(c) ? '#3f7fbf' : (bNoValueGroups.includes(c) ? '#e6e6e6' : '#c6d9ea');
    if (bWhiskerHigh[i] > bQ3[i]) {
      el = add(g, 'path', {d: 'M' + x + ' ' + bY(bQ3[i]) + 'V' + bY(bWhiskerHigh[i]) + 'M' + (x-hw) + ' ' + bY(bWhiskerHigh[i]) + 'H' + (x+hw), stroke: '#111', 'stroke-width': 4, fill: 'none'});
      
      
    }
    if (bWhiskerLow[i] < bQ1[i]) {
      el = add(g, 'path', {d: 'M' + x + ' ' + bY(bQ1[i]) + 'V' + bY(bWhiskerLow[i]) + 'M' + (x-hw) + ' ' + bY(bWhiskerLow[i]) + 'H' + (x+hw), stroke: '#111', 'stroke-width': 4, fill: 'none'});
      
      
    }
    el = add(g, 'rect', {x: x-hw, y: bY(bQ3[i]), width: 2*hw, height: bY(bQ1[i]) - bY(bQ3[i]), fill: fill, stroke: '#111', 'stroke-width': 5});
    
    
    el = add(g, 'line', {x1: x-hw, x2: x+hw, y1: bY(bMedian[i]), y2: bY(bMedian[i]), stroke: '#111', 'stroke-width': 6});
    
    
    [bOutlierHigh[i], bOutlierLow[i]].forEach(v => {
      if (v === null) return;
      el = add(g, 'circle', {cx: x, cy: bY(v), r: 8.5, fill: '#111'});
      
      
    });
  });
  bFaintOutlier.forEach(v => {
    el = add(g, 'circle', {cx: bX(0), cy: bY(v), r: 8, fill: '#aaa'});
    
    
  });
  el = add(g, 'line', {x1: left-31, x2: 3087, y1: bY(0), y2: bY(0), stroke: '#111', 'stroke-width': 3.5});
  
  
})();

/* ---------- Panel C ---------- */
(function () {
  const g = document.getElementById('cPlot');
  const cX = v => 512 + 23.75 * v;
  const cY = v => 2181 - 60 * v;
  let el;
  cYTicks.forEach(v => {
    el = add(g, 'line', {x1: 155, x2: 869, y1: cY(v), y2: cY(v), stroke: '#e6e6e6', 'stroke-width': 2.5, 'stroke-dasharray': '24 14'});
    
    
    el = addText(g, String(v), {x: 126, y: cY(v) + 13, 'text-anchor': 'end', 'font-size': 36, style: 'fill:#333'});
    
    
  });
  cXTicks.forEach(v => {
    if (v === 0) return;
    el = add(g, 'line', {x1: cX(v), x2: cX(v), y1: 1525, y2: 2237, stroke: '#e6e6e6', 'stroke-width': 2.5, 'stroke-dasharray': '24 14'});
    
    
  });
  const poly = (xs, ys, fill, name) => {
    const pts = xs.map((x,i) => cX(x) + ',' + cY(ys[i])).join(' ');
    const p = add(g, 'polygon', {points: pts, fill: fill, stroke: fill, 'stroke-width': 12, 'stroke-linejoin': 'round'});
    
    
  };
  poly(cGrayFanLogRatio, cGrayFanP, '#cfcfcf', 'not-significant-fan');
  el = add(g, 'polyline', {points: cGrayStreakLogRatio.map((x,i) => cX(x)+','+cY(cGrayStreakP[i])).join(' '), fill: 'none', stroke: '#cfcfcf', 'stroke-width': 18, 'stroke-linecap': 'round'});
  
  
  el = add(g, 'polyline', {points: cGrayCurveLogRatio.map((x,i) => cX(x)+','+cY(cGrayCurveP[i])).join(' '), fill: 'none', stroke: '#cfcfcf', 'stroke-width': 19, 'stroke-linecap': 'round', 'stroke-linejoin': 'round'});
  
  
  el = add(g, 'line', {x1: cX(cGrayColumnLogRatio), x2: cX(cGrayColumnLogRatio), y1: cY(cGrayColumnP[0]), y2: cY(cGrayColumnP[1]), stroke: '#d2d2d2', 'stroke-width': 17, 'stroke-linecap': 'round'});
  
  
  cFaintLogRatio.forEach((x,i) => {
    el = add(g, 'circle', {cx: cX(x), cy: cY(cFaintP[i]), r: 8, fill: '#e8e8e8'});
    
    
  });
  poly(cFanLogRatio, cFanP, '#50a5f0', 'significant-fan');
  cStreakLogRatioStart.forEach((x,i) => {
    el = add(g, 'line', {x1: cX(x), y1: cY(cStreakPStart[i]), x2: cX(cStreakLogRatioEnd[i]), y2: cY(cStreakPEnd[i]), stroke: '#50a5f0', 'stroke-width': i === 4 ? 13 : 19, 'stroke-linecap': 'round'});
    
    
  });
  cLightLogRatio.forEach((x,i) => {
    el = add(g, 'circle', {cx: cX(x), cy: cY(cLightP[i]), r: 8.5, fill: '#50a5f0', 'fill-opacity': 0.45});
    
    
  });
  el = add(g, 'line', {x1: 512, x2: 512, y1: 1525, y2: 2237, stroke: '#555', 'stroke-width': 3});
  
  
  el = add(g, 'line', {x1: 155, x2: 869, y1: 2237, y2: 2237, stroke: '#555', 'stroke-width': 3});
  
  
})();

/* ---------- Panel D ---------- */
(function () {
  const g = document.getElementById('dPlot');
  const dX = v => 1293 + 10.9 * v;
  const dY = v => 2195 - 10.92 * v;
  let el;
  dYTicks.forEach(v => {
    el = add(g, 'line', {x1: 1293, x2: 1900, y1: dY(v), y2: dY(v), stroke: '#ececec', 'stroke-width': 2.5, 'stroke-dasharray': '24 14'});
    
    
    el = add(g, 'line', {x1: 1242, x2: 1256, y1: dY(v), y2: dY(v), stroke: '#444', 'stroke-width': 2.5});
    
    
    el = addText(g, String(v), {x: 1234, y: dY(v) + 13, 'text-anchor': 'end', 'font-size': 36, style: 'fill:#333'});
    
    
  });
  dXTicks.forEach(v => {
    el = add(g, 'line', {x1: dX(v), x2: dX(v), y1: 1590, y2: 2232, stroke: '#f0f0f0', 'stroke-width': 2.5, 'stroke-dasharray': '24 14'});
    
    
    el = add(g, 'line', {x1: dX(v), x2: dX(v), y1: 2232, y2: 2244, stroke: '#444', 'stroke-width': 2.5});
    
    
    el = addText(g, String(v), {x: dX(v), y: 2282, 'text-anchor': 'middle', 'font-size': 36, style: 'fill:#333'});
    
    
  });
  el = add(g, 'line', {x1: dX(0), y1: dY(0), x2: dX(54), y2: dY(54), stroke: '#cfcfcf', 'stroke-width': 3, 'stroke-dasharray': '30 18'});
  
  
  dPaleFreq.forEach((x,i) => {
    el = add(g, 'circle', {cx: dX(x), cy: dY(dPaleValue[i]), r: 8.5, fill: '#e8e8e8'});
    
    
  });
  dGrayColumnFreq.forEach((x,i) => {
    el = add(g, 'line', {x1: dX(x), x2: dX(x), y1: dY(dGrayColumnLow[i]), y2: dY(dGrayColumnHigh[i]), stroke: '#d4d4d4', 'stroke-width': 17, 'stroke-linecap': 'round'});
    
    
  });
  dBlueSpanFreq.forEach((x,i) => {
    el = add(g, 'line', {x1: dX(x), x2: dX(x), y1: dY(dBlueSpanLow[i]), y2: dY(dBlueSpanHigh[i]), stroke: '#57aaf5', 'stroke-width': 17, 'stroke-linecap': 'round'});
    
    
  });
  dBluePointFreq.forEach((x,i) => {
    el = add(g, 'circle', {cx: dX(x), cy: dY(dBluePointValue[i]), r: 8.5, fill: '#72b8f7'});
    
    
  });
  dBluePaleFreq.forEach((x,i) => {
    el = add(g, 'circle', {cx: dX(x), cy: dY(dBluePaleValue[i]), r: 8.5, fill: '#a4d2fa'});
    
    
  });
  el = add(g, 'line', {x1: 1256, x2: 1256, y1: 1552, y2: 2195, stroke: '#444', 'stroke-width': 3});
  
  
  el = add(g, 'line', {x1: 1293, x2: 1915, y1: 2232, y2: 2232, stroke: '#444', 'stroke-width': 3});
  
  
  el = add(g, 'line', {x1: 1915, x2: 1915, y1: 1544, y2: 2297, stroke: '#bbb', 'stroke-width': 2.5});
  
  
})();

/* ---------- Panel E ---------- */
(function () {
  const g = document.getElementById('ePlot');
  const eX = v => 2239 + 708 * v;
  const eY = v => 2186 - 0.1106 * v;
  const densityStops = [[0,'#170b8c'],[0.35,'#6a0ca8'],[0.62,'#b5318f'],[0.82,'#e4676c'],[1,'#fa9148']];
  const eColor = d => lerpColor(densityStops, Math.log(Math.max(d,1)) / Math.log(281));
  let el;
  eYTicks.forEach(v => {
    el = add(g, 'line', {x1: 2200, x2: 2950, y1: eY(v), y2: eY(v), stroke: '#eef2f5', 'stroke-width': 2.5, 'stroke-dasharray': '24 12'});
    
    
    el = addText(g, String(v), {x: 2182, y: eY(v) + 12, 'text-anchor': 'end', 'font-size': 32, style: 'fill:#222'});
    
    
    el = add(g, 'line', {x1: 2188, x2: 2200, y1: eY(v), y2: eY(v), stroke: '#444', 'stroke-width': 2.5});
    
    
  });
  eXTicks.forEach(v => {
    el = add(g, 'line', {x1: eX(v), x2: eX(v), y1: 1553, y2: 2226, stroke: '#eef2f5', 'stroke-width': 2.5, 'stroke-dasharray': '24 12'});
    
    
    el = addText(g, String(v), {x: eX(v), y: 2270, 'text-anchor': 'middle', 'font-size': 32, style: 'fill:#222'});
    
    
    el = add(g, 'line', {x1: eX(v), x2: eX(v), y1: 2226, y2: 2238, stroke: '#444', 'stroke-width': 2.5});
    
    
  });
  eFraction.forEach((x,i) => {
    el = add(g, 'circle', {cx: eX(x), cy: eY(eMutations[i]), r: 7, fill: eColor(eDensity[i])});
    
    
  });
  eHundredRowDensity.forEach((d,i) => {
    if (!d) return;
    el = add(g, 'circle', {cx: eX(i*0.02), cy: eY(100), r: 7, fill: eColor(d)});
    
    
  });
  eZeroRowDensity.forEach((d,i) => {
    el = add(g, 'circle', {cx: eX(i*0.02), cy: eY(0), r: 7, fill: eColor(d)});
    
    
  });
  el = add(g, 'path', {d: 'M2200 1553V2226H2964', fill: 'none', stroke: '#444', 'stroke-width': 3});
  
  
})();

/* ---------- Panel F ---------- */
(function () {
  const g = document.getElementById('fPlot');
  const fX = v => 3653 + 249.7 * v;
  const fY = lg => 1957 - (lg - 1) * 168.8;
  const strokes = ['#ff3b3b','#19ad19','#18b8ff','#888888'];
  const fills = ['#ff9c9c','#82d57f','#86d9ff','#b9b9b9'];
  const vCentres = [3140,3178.5,3217,3255.6];
  const hRows = [2339.5,2301,2262,2224];
  let el;
  fYTickValues.forEach((v,i) => {
    el = addText(g, fYTickLabels[i], {x: 3113, y: fY(Math.log2(v)) + 9, 'text-anchor': 'end', 'font-size': 24, class: 'dj', style: 'fill:#888'});
    
    
  });
  el = addText(g, 'M', {x: 3113, y: 1570, 'text-anchor': 'end', 'font-size': 22, class: 'dj', style: 'fill:#888'});
  
  
  el = addText(g, '<', {x: 3113, y: 2131, 'text-anchor': 'end', 'font-size': 22, class: 'dj', style: 'fill:#888'});
  
  
  fXTicks.forEach(v => {
    el = addText(g, minus(v), {x: fX(v), y: 2389, 'text-anchor': 'middle', 'font-size': 28, class: 'dj', style: 'fill:#777'});
    
    
  });
  fNoneRowLog2.forEach((lg,r) => {
    fNoneRowSeg[r].forEach(x => {
      el = add(g, 'circle', {cx: fX(x), cy: fY(lg), r: 3.6, fill: '#18b8ff'});
      
      
    });
  });
  fNoneExtras.concat(fNoneOffRow).forEach(p => {
    el = add(g, 'circle', {cx: fX(p[0]), cy: fY(p[1]), r: 3.6, fill: '#18b8ff'});
    
    
  });
  fLossPoints.forEach(p => {
    el = add(g, 'circle', {cx: fX(p[0]), cy: fY(p[1]), r: 3.2, fill: '#19ad19'});
    
    
  });
  fNormalPoints.forEach(p => {
    el = add(g, 'circle', {cx: fX(p[0]), cy: fY(p[1]), r: 4, fill: '#888'});
    
    
  });
  fGainPoints.forEach(p => {
    el = add(g, 'circle', {cx: fX(p[0]), cy: fY(p[1]), r: 3, fill: '#ff3b3b'});
    
    
  });
  fGroups.forEach((name,i) => {
    const c = vCentres[i], hw = 11, s = strokes[i];
    el = add(g, 'path', {d: 'M' + c + ' ' + fY(fVHigh[i]) + 'V' + fY(fVLow[i]) + 'M' + (c-5) + ' ' + fY(fVHigh[i]) + 'H' + (c+5) + 'M' + (c-5) + ' ' + fY(fVLow[i]) + 'H' + (c+5), stroke: s, 'stroke-width': 3, fill: 'none'});
    
    
    el = add(g, 'rect', {x: c-hw, y: fY(fVQ3[i]), width: 2*hw, height: fY(fVQ1[i]) - fY(fVQ3[i]), fill: fills[i], stroke: s, 'stroke-width': 2.5});
    
    
    el = add(g, 'line', {x1: c-hw, x2: c+hw, y1: fY(fVMed[i]), y2: fY(fVMed[i]), stroke: s, 'stroke-width': 2.5});
    
    
    fVOutliers[i].forEach(v => {
      el = add(g, 'circle', {cx: c, cy: fY(v), r: 2.6, fill: s});
      
      
    });
    const ry = hRows[i], hh = 10;
    el = add(g, 'path', {d: 'M' + fX(fHLow[i]) + ' ' + ry + 'H' + fX(fHHigh[i]) + 'M' + fX(fHLow[i]) + ' ' + (ry-4) + 'V' + (ry+4) + 'M' + fX(fHHigh[i]) + ' ' + (ry-4) + 'V' + (ry+4), stroke: s, 'stroke-width': 3, fill: 'none'});
    
    
    el = add(g, 'rect', {x: fX(fHQ1[i]), y: ry-hh, width: fX(fHQ3[i]) - fX(fHQ1[i]), height: 2*hh, fill: fills[i], stroke: s, 'stroke-width': 2.5});
    
    
    el = add(g, 'line', {x1: fX(fHMed[i]), x2: fX(fHMed[i]), y1: ry-hh, y2: ry+hh, stroke: s, 'stroke-width': 2.5});
    
    
    fHOutliers[i].forEach(v => {
      el = add(g, 'circle', {cx: fX(v), cy: ry, r: 2.6, fill: s});
      
      
    });
  });
})();

/* ---------- Panel G ---------- */
(function () {
  const g = document.getElementById('gPlot');
  const gY = v => 2959 - 6.875 * v;
  const tumorAreaX = r => 504 + r / 100 * 1981;
  const normalAreaX = r => 2510 + r / 100 * 209;
  const hmTumorX = r => 511 + r;
  const hmNormalX = r => 2513 + r;
  const betaStops = [[0.05,'#4a4a90'],[0.1,'#77778a'],[0.3,'#9a8ce0'],[0.42,'#cdc2f0'],[0.5,'#ffffff'],[0.6,'#fdeade'],[0.68,'#f9c8ae'],[0.78,'#f27c5c'],[1,'#ff0000']];
  let el;
  const toPoints = (xs, ys, xf) => xs.map((r,i) => xf(r) + ',' + gY(ys[i])).join(' ');
  el = add(g, 'polygon', {points: toPoints(gTumorRank, gTumorFpkm, tumorAreaX), fill: '#333'});
  
  
  el = add(g, 'polygon', {points: toPoints(gNormalRank, gNormalFpkm, normalAreaX), fill: '#333'});
  
  
  el = add(g, 'line', {x1: 504, x2: 2485, y1: gY(0)-2, y2: gY(0)-2, stroke: '#000', 'stroke-width': 5});
  
  
  el = add(g, 'line', {x1: 2510, x2: 2719, y1: gY(0)-2, y2: gY(0)-2, stroke: '#000', 'stroke-width': 5});
  
  
  el = add(g, 'line', {x1: 504, x2: 504, y1: 2657, y2: 2961, stroke: '#000', 'stroke-width': 5});
  
  
  gYTicks.forEach(v => {
    el = add(g, 'line', {x1: 488, x2: 504, y1: gY(v), y2: gY(v), stroke: '#000', 'stroke-width': 7});
    
    
    const wide = v !== 0;
    el = addText(g, String(v), {x: wide ? 418 : 432, y: gY(v) + (wide ? 10 : 26), 'font-size': 52, textLength: wide ? 60 : 28, lengthAdjust: 'spacingAndGlyphs'});
    
    
  });
  el = add(g, 'rect', {x: 511, y: 3010, width: 1978, height: 90, fill: '#fffaf6'});
  
  
  el = add(g, 'rect', {x: 2513, y: 3010, width: 210, height: 90, fill: '#fffaf6'});
  
  
  gCpg1TumorRank.forEach((r,i) => {
    el = add(g, 'rect', {x: hmTumorX(r)-1.6, y: 3019, width: 3.2, height: 80, fill: lerpColor(betaStops, gCpg1TumorBeta[i]), 'fill-opacity': 0.85});
    
    
  });
  gCpg1NormalRank.forEach((r,i) => {
    el = add(g, 'rect', {x: hmNormalX(r)-1.6, y: 3019, width: 3.2, height: 80, fill: lerpColor(betaStops, gCpg1NormalBeta[i]), 'fill-opacity': 0.85});
    
    
  });
  const base = (x, w, name) => {
    const r = add(g, 'rect', {x: x, y: 3100, width: w, height: 81, fill: '#3f18bb'});
    
    
  };
  base(511, 1978, 'cpg2-tumor-heatmap');
  base(2513, 210, 'cpg2-normal-heatmap');
  gCpg2DarkRank.forEach(r => {
    el = add(g, 'rect', {x: hmTumorX(r), y: 3100, width: 14, height: 81, fill: '#2f0fa8', 'fill-opacity': 0.3});
    
    
  });
  gCpg2TumorLightRank.forEach(r => {
    el = add(g, 'rect', {x: hmTumorX(r), y: 3100, width: 2.5, height: 81, fill: '#6f54d4', 'fill-opacity': 0.85});
    
    
  });
  gCpg2NormalLightRank.forEach(r => {
    el = add(g, 'rect', {x: hmNormalX(r), y: 3100, width: 2.5, height: 81, fill: '#6248cc', 'fill-opacity': 0.85});
    
    
  });
  el = add(g, 'rect', {x: 511, y: 3100, width: 1978, height: 81, fill: 'url(#edgeShade)'});
  
  
  el = add(g, 'rect', {x: 2513, y: 3100, width: 210, height: 81, fill: 'url(#edgeShade)'});
  
  
})();
</script>
</body>
</html>
